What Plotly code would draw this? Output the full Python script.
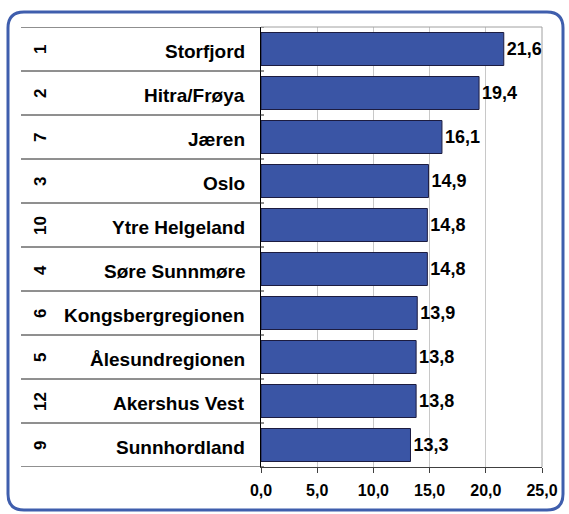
import plotly.graph_objects as go

ranks = ["1", "2", "7", "3", "10", "4", "6", "5", "12", "9"]
regions = ["Storfjord", "Hitra/Frøya", "Jæren", "Oslo", "Ytre Helgeland",
           "Søre Sunnmøre", "Kongsbergregionen", "Ålesundregionen",
           "Akershus Vest", "Sunnhordland"]
values = [21.6, 19.4, 16.1, 14.9, 14.8, 14.8, 13.9, 13.8, 13.8, 13.3]
x_ticks = [0, 5, 10, 15, 20, 25]

W, H = 569, 514
L, R, T, B = 261, 27, 27, 47
PW, PH = W - L - R, H - T - B

def px(x):
    return (x - L) / PW

def py(y):
    return (H - B - y) / PH

FONT = "Liberation Sans, Arial, sans-serif"

fig = go.Figure()
fig.add_trace(go.Bar(
    x=values, y=regions, orientation="h",
    marker=dict(color="#3A55A5", line=dict(color="#1c1c40", width=1)),
    texttemplate="%{x:.1f}", textposition="outside",
    textfont=dict(family=FONT, size=18, color="black", weight="bold"),
    cliponaxis=False, hoverinfo="skip",
))

shapes = []
for i in range(len(regions) + 1):
    shapes.append(dict(type="line", xref="paper", yref="y",
                       x0=px(21), x1=px(264), y0=i - 0.5, y1=i - 0.5,
                       line=dict(color="#202020", width=1)))
shapes.append(dict(type="line", xref="paper", yref="paper", x0=0, x1=1, y0=1, y1=1,
                   line=dict(color="#a0a0a0", width=1)))
shapes.append(dict(type="line", xref="paper", yref="paper", x0=1, x1=1, y0=0, y1=1,
                   line=dict(color="#a0a0a0", width=1)))

lx, rx, ty, by, rad = 8, 563, 12, 510, 16
rxp, ryp = rad / PW, rad / PH
path = (f"M {px(lx)+rxp},{py(ty)} L {px(rx)-rxp},{py(ty)} "
        f"Q {px(rx)},{py(ty)} {px(rx)},{py(ty)-ryp} "
        f"L {px(rx)},{py(by)+ryp} "
        f"Q {px(rx)},{py(by)} {px(rx)-rxp},{py(by)} "
        f"L {px(lx)+rxp},{py(by)} "
        f"Q {px(lx)},{py(by)} {px(lx)},{py(by)+ryp} "
        f"L {px(lx)},{py(ty)-ryp} "
        f"Q {px(lx)},{py(ty)} {px(lx)+rxp},{py(ty)} Z")
shapes.append(dict(type="path", xref="paper", yref="paper", path=path,
                   line=dict(color="#3F5EAD", width=3), layer="below"))

annotations = []
for r, name in zip(ranks, regions):
    annotations.append(dict(xref="paper", yref="y", x=px(247), y=name, text=name,
                            showarrow=False, xanchor="right", yanchor="middle", yshift=-2,
                            font=dict(family=FONT, size=19, color="black", weight="bold")))
    annotations.append(dict(xref="paper", yref="y", x=px(40), y=name, text=r,
                            showarrow=False, xanchor="center", yanchor="middle", textangle=-90,
                            yshift=-1,
                            font=dict(family=FONT, size=17, color="black", weight="bold")))

fig.update_layout(
    width=W, height=H,
    margin=dict(l=L, r=R, t=T, b=B),
    paper_bgcolor="white", plot_bgcolor="white",
    separators=", ",
    bargap=0.25,
    showlegend=False,
    shapes=shapes, annotations=annotations,
    xaxis=dict(range=[0, 25], tickvals=x_ticks, tickformat=".1f",
               showgrid=True, gridcolor="#c8c8c8", gridwidth=1,
               showline=True, linecolor="#404040", linewidth=1,
               ticks="outside", ticklen=5, tickcolor="#404040",
               ticklabelstandoff=4,
               tickfont=dict(family=FONT, size=16, color="black", weight="bold"),
               zeroline=False, fixedrange=True),
    yaxis=dict(range=[9.5, -0.5], showticklabels=False, showgrid=False,
               showline=True, linecolor="black", linewidth=1,
               ticks="", zeroline=False, fixedrange=True),
)

fig.write_html("out.html", post_script="document.body.style.margin='0';",
               config={"displayModeBar": False})
